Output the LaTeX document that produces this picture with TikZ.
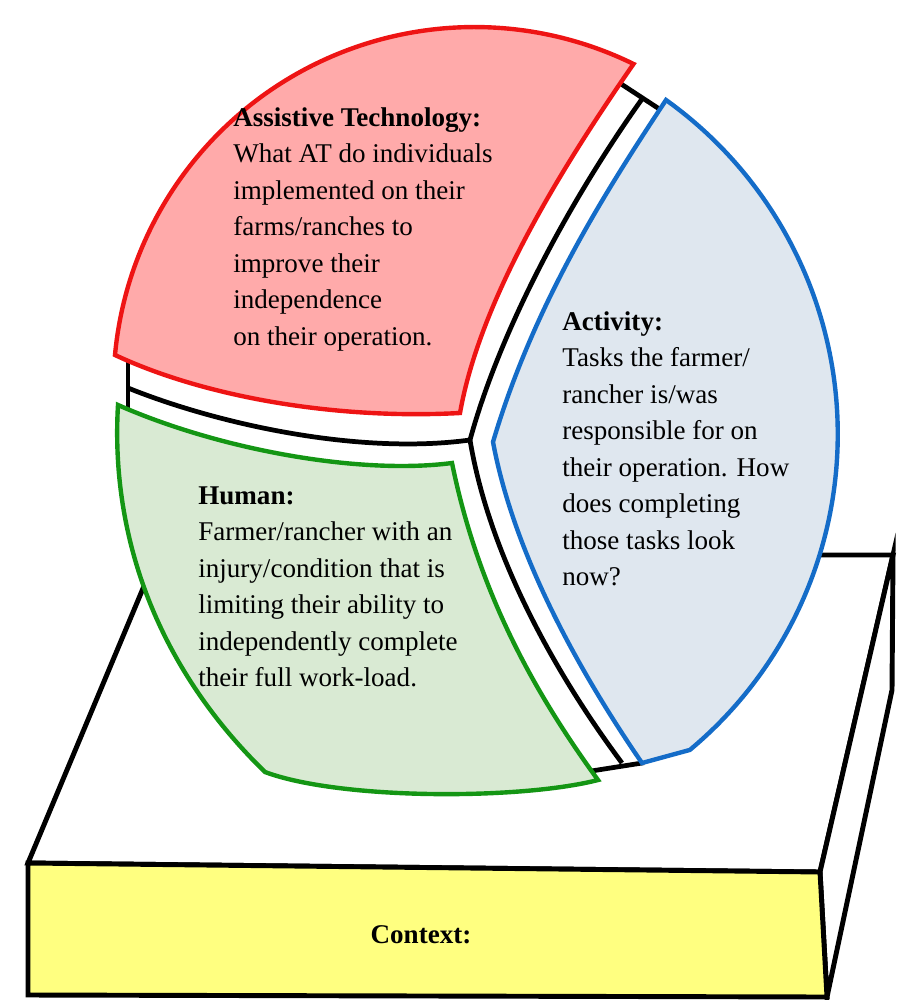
\documentclass[tikz,border=0pt]{standalone}
\usepackage{fontspec}
\setmainfont{Liberation Serif}

\definecolor{techred}{RGB}{238,20,20}
\definecolor{techpink}{RGB}{255,170,170}
\definecolor{humangreen}{RGB}{20,150,20}
\definecolor{humanfill}{RGB}{217,234,211}
\definecolor{actblue}{RGB}{20,108,200}
\definecolor{actfill}{RGB}{223,231,239}
\definecolor{ctxyellow}{RGB}{255,255,128}

\begin{document}
\begin{tikzpicture}[x=0.02cm,y=-0.02cm,line join=round,
  box line/.style={line width=2.8pt,draw=black,line join=miter},
  pie line/.style={line width=2.7pt,draw=black},
  slice line/.style={line width=2.5pt,line join=miter},
  block text/.style={anchor=north west,align=left,inner sep=0pt,
    font=\fontsize{15.4}{20.8}\selectfont}]

  \useasboundingbox (0,0) rectangle (910,1000);

  % platform
  \filldraw[box line,fill=white] (28,863) -- (157,555) -- (893,555) -- (820,872) -- cycle;
  \filldraw[box line,fill=white] (820,872) -- (893,555) -- (892,690) -- (827,997) -- cycle;
  \filldraw[box line,fill=ctxyellow] (28,863) -- (820,872) -- (827,997) -- (28,995) -- cycle;

  % pie under the slices
  \fill[white] (477,422) ellipse [x radius=350, y radius=355];
  \draw[pie line] (470,440) .. controls (500,330) and (570,200) .. (642,99);
  \draw[pie line] (470,440) .. controls (360,455) and (220,425) .. (128,388);
  \draw[pie line] (470,440) .. controls (490,560) and (560,680) .. (622,763);
  \draw[pie line] (612,78) -- (670,116);
  \draw[pie line] (128,345) -- (128,415);
  \draw[pie line] (585,772) -- (644,762.7);

  % slices
  \filldraw[slice line,draw=techred,fill=techpink] (115,355)
    arc[start angle=185.25,end angle=296.14,radius=361]
    .. controls (560,170) and (480,300) .. (460,413)
    .. controls (330,420) and (200,395) .. (115,355) -- cycle;
  \filldraw[slice line,draw=humangreen,fill=humanfill] (118,405)
    .. controls (220,450) and (360,475) .. (452,463)
    .. controls (480,600) and (540,700) .. (598,780)
    .. controls (520,800) and (340,800) .. (265,772)
    .. controls (160,670) and (110,540) .. (118,405) -- cycle;
  \filldraw[slice line,draw=actblue,fill=actfill] (666,100)
    arc[start angle=-54.4,end angle=50.2,radius=411] -- (642,763)
    .. controls (585,680) and (515,560) .. (493,442)
    .. controls (535,300) and (610,185) .. (666,100) -- cycle;

  % texts
  \node[block text] (tech) at (233,107) {\textbf{Assistive Technology:}\\What AT do individuals\\implemented on their\\farms/ranches to\\improve their\\independence\\on their operation.};
  \node[block text] (activity) at (562,311) {\textbf{Activity:}\\Tasks the farmer/\\rancher is/was\\responsible for on\\their operation. How\\does completing\\those tasks look\\now?};
  \node[block text] (human) at (198,486) {\textbf{Human:}\\Farmer/rancher with an\\injury/condition that is\\limiting their ability to\\independently complete\\their full work-load.};
  \node[font=\fontsize{15.4}{20.8}\selectfont\bfseries] (context) at (421,935) {Context:};
\end{tikzpicture}
\end{document}
